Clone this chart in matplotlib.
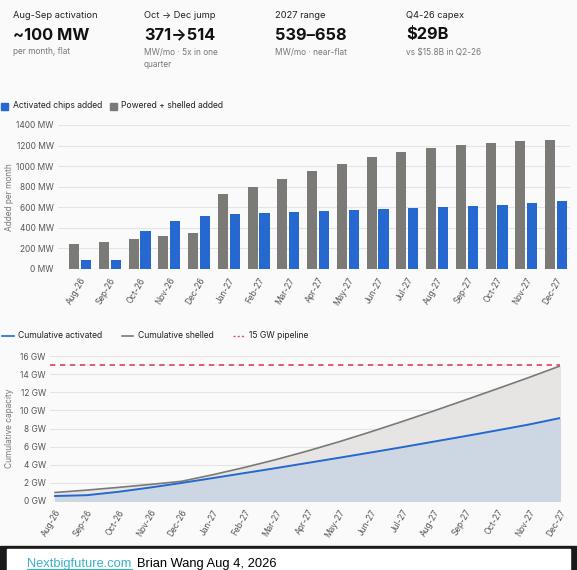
import matplotlib
matplotlib.use("Agg")
import matplotlib.pyplot as plt
import numpy as np

W, H = 577, 570

months = ["Aug-26", "Sep-26", "Oct-26", "Nov-26", "Dec-26", "Jan-27", "Feb-27", "Mar-27",
          "Apr-27", "May-27", "Jun-27", "Jul-27", "Aug-27", "Sep-27", "Oct-27", "Nov-27", "Dec-27"]

# MW added per month
activated_added = [90, 90, 371, 470, 514, 539, 547, 555, 563, 572, 582, 594, 605, 615, 626, 640, 658]
shelled_added = [240, 265, 290, 320, 350, 730, 800, 875, 950, 1020, 1085, 1140, 1175, 1205, 1225, 1240, 1250]

# cumulative GW
cum_activated = [0.55, 0.64, 1.01, 1.48, 1.99, 2.53, 3.08, 3.63, 4.20, 4.77, 5.35, 5.94, 6.55, 7.16, 7.79, 8.43, 9.15]
cum_shelled = [0.94, 1.20, 1.50, 1.82, 2.17, 2.90, 3.70, 4.57, 5.52, 6.54, 7.63, 8.77, 9.94, 11.15, 12.37, 13.61, 14.90]
pipeline_gw = 15

# header cards
card_titles = ["Aug-Sep activation", "Oct \u2192 Dec jump", "2027 range", "Q4-26 capex"]
card_values = ["~100 MW", "371\u2192514", "539\u2013658", "$29B"]
card_notes = ["per month, flat", "MW/mo \u00b7 5x in one\nquarter", "MW/mo \u00b7 near-flat", "vs $15.8B in Q2-26"]

BG = "#fafafa"
BLUE = "#2468d0"
GRAY = "#7b7a77"
TXT = "#222222"
MUTED = "#777777"
GRID = "#e4e4e4"

plt.rcParams['font.family'] = ['Inter', 'DejaVu Sans']

fig = plt.figure(figsize=(W / 100, H / 100), dpi=100, facecolor=BG)


def rect(l, t, r, b):
    return [l / W, 1 - b / H, (r - l) / W, (b - t) / H]


def px(x, y):
    return x / W, 1 - y / H


# header
for i in range(4):
    x0 = 13 + i * 131
    fig.text(*px(x0, 16), card_titles[i], fontsize=6.7, color=TXT, va="center")
    fig.text(*px(x0, 35), card_values[i], fontsize=11.8, fontweight="bold", color="#111111", va="center")
    fig.text(*px(x0, 47.5), card_notes[i], fontsize=6.0, color=MUTED, va="top", linespacing=1.45)

# legend for bar chart
fig.add_artist(plt.Rectangle(px(1, 110), 7 / W, 7 / H, transform=fig.transFigure, color=BLUE))
fig.text(*px(13, 106), "Activated chips added", fontsize=6.2, color=TXT, va="center")
fig.add_artist(plt.Rectangle(px(110, 110), 7 / W, 7 / H, transform=fig.transFigure, color=GRAY))
fig.text(*px(121, 106), "Powered + shelled added", fontsize=6.2, color=TXT, va="center")

# bar chart
ax1 = fig.add_axes(rect(58, 125, 570, 269))
ax1.set_facecolor(BG)
x = np.arange(len(months))
ax1.bar(x - 0.2, shelled_added, width=0.34, color=GRAY, zorder=3)
ax1.bar(x + 0.2, activated_added, width=0.34, color=BLUE, zorder=3)
ax1.set_xlim(-0.74, 16.47)
ax1.set_ylim(0, 1400)
ax1.set_yticks(range(0, 1401, 200))
ax1.set_yticklabels([f"{v} MW" for v in range(0, 1401, 200)])
ax1.set_xticks(x)
ax1.set_xticklabels(months, rotation=60, ha="right", rotation_mode="anchor")
ax1.grid(axis="y", color=GRID, lw=0.8, zorder=0)
ax1.set_ylabel("Added per month", fontsize=6.0, color=MUTED)
ax1.yaxis.set_label_coords(-(58 - 14) / 512, 0.5)

# legend for line chart
fig.add_artist(plt.Line2D([2 / W, 14 / W], [1 - 336 / H] * 2, color=BLUE, lw=1.2))
fig.text(*px(18, 336), "Cumulative activated", fontsize=6.2, color=TXT, va="center")
fig.add_artist(plt.Line2D([122 / W, 133 / W], [1 - 336 / H] * 2, color=GRAY, lw=1.2))
fig.text(*px(138, 336), "Cumulative shelled", fontsize=6.2, color=TXT, va="center")
fig.add_artist(plt.Line2D([233 / W, 245 / W], [1 - 336 / H] * 2, color="#e0505e", lw=1.0, ls=(0, (1.5, 1.5))))
fig.text(*px(249, 336), "15 GW pipeline", fontsize=6.2, color=TXT, va="center")

# line chart
ax2 = fig.add_axes(rect(50, 356, 560, 501))
ax2.set_facecolor(BG)
ax2.fill_between(x, cum_shelled, color="#e6e5e4", zorder=1)
ax2.fill_between(x, cum_activated, color="#cdd7e4", zorder=2)
ax2.plot(x, cum_shelled, color=GRAY, lw=1.2, zorder=4)
ax2.plot(x, cum_activated, color=BLUE, lw=1.4, zorder=4)
ax2.axhline(pipeline_gw, color="#e0505e", lw=1.3, ls=(0, (3, 2.5)), zorder=5)
ax2.set_xlim(-0.16, 16)
ax2.set_ylim(0, 16)
ax2.set_yticks(range(0, 17, 2))
ax2.set_yticklabels([f"{v} GW" for v in range(0, 17, 2)])
ax2.set_xticks(x)
ax2.set_xticklabels(months, rotation=60, ha="right", rotation_mode="anchor")
ax2.grid(axis="y", color=GRID, lw=0.8, zorder=3)
ax2.set_ylabel("Cumulative capacity", fontsize=6.0, color=MUTED)
ax2.yaxis.set_label_coords(-(50 - 14) / 510, 0.5)

for ax in (ax1, ax2):
    for s in ax.spines.values():
        s.set_visible(False)
    ax.tick_params(length=0, labelsize=6.0, labelcolor="#555555", pad=3)
    ax.tick_params(axis="x", pad=5)

# footer
fig.add_artist(plt.Rectangle((0, 0), 1, 1 - 546 / H, transform=fig.transFigure, color="#1a1a1a"))
fig.add_artist(plt.Rectangle((7 / W, 0), 563 / W, 1 - 549 / H, transform=fig.transFigure, color="white"))
fig.text(*px(27, 567), "Nextbigfuture.com", fontsize=9.3, color="#3bb0c9", family="Liberation Sans")
fig.text(*px(137, 567), "Brian Wang Aug 4, 2026", fontsize=9.3, color="black", family="Liberation Sans")
fig.add_artist(plt.Line2D([27 / W, 132 / W], [1 - 569 / H] * 2, color="#3bb0c9", lw=0.8))

fig.savefig("out.png", dpi=100, facecolor=BG)
